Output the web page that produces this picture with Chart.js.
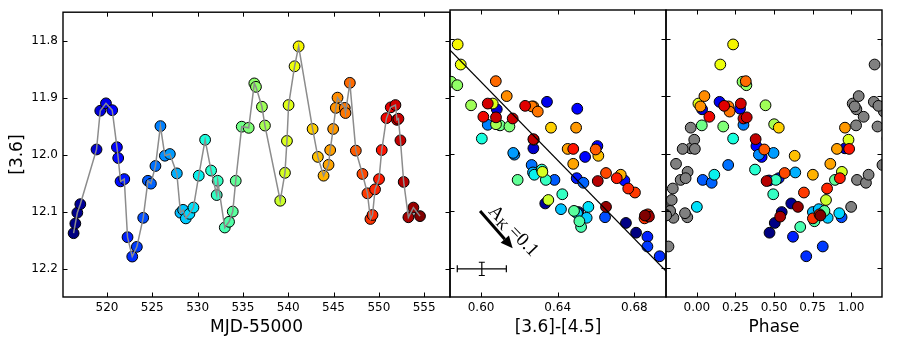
<!DOCTYPE html>
<html>
<head>
<meta charset="utf-8">
<script src="https://cdn.jsdelivr.net/npm/chart.js@4/dist/chart.umd.min.js"></script>
<style>
  body { margin: 0; background: #fff; }
  #wrap { position: relative; width: 900px; height: 338px; }
  #wrap canvas { position: absolute; left: 0; top: 0; }
</style>
</head>
<body>
<div id="wrap">
  <canvas id="lc" width="900" height="338"></canvas>
  <canvas id="cm" width="900" height="338"></canvas>
  <canvas id="ph" width="900" height="338"></canvas>
</div>
<script>
// ---------- DATA ----------
const mjd = [516.32, 516.51, 516.73, 517.06, 518.85, 519.26, 519.89, 520.58, 521.10, 521.24,
  521.50, 521.91, 522.27, 522.79, 523.30, 524.00, 524.52, 524.85, 525.35, 525.90,
  526.39, 526.94, 527.71, 528.11, 528.40, 528.70, 529.10, 529.54, 530.13, 530.83,
  531.49, 532.11, 532.22, 533.00, 533.47, 533.88, 534.21, 534.87, 535.64, 536.26,
  536.44, 537.10, 537.43, 539.12, 539.64, 539.86, 540.04, 540.70, 541.15, 542.69,
  543.27, 543.90, 544.45, 544.63, 544.96, 545.25, 545.44, 546.24, 546.32, 546.80,
  547.46, 548.19, 548.74, 549.07, 549.30, 549.58, 550.02, 550.32, 550.84, 551.31,
  551.83, 552.00, 552.16, 552.38, 552.74, 553.26, 553.81, 554.54];

const mag36 = [12.138, 12.121, 12.102, 12.087, 11.991, 11.923, 11.910, 11.922, 11.987, 12.006,
  12.047, 12.043, 12.145, 12.179, 12.162, 12.111, 12.046, 12.051, 12.020, 11.950,
  12.002, 11.999, 12.033, 12.102, 12.097, 12.112, 12.104, 12.093, 12.037, 11.974,
  12.028, 12.071, 12.046, 12.128, 12.118, 12.100, 12.046, 11.951, 11.953, 11.875,
  11.881, 11.916, 11.949, 12.081, 12.032, 11.976, 11.913, 11.845, 11.810, 11.955,
  12.004, 12.037, 12.018, 11.992, 11.955, 11.918, 11.900, 11.918, 11.927, 11.874,
  11.993, 12.034, 12.068, 12.113, 12.106, 12.061, 12.043, 11.992, 11.936, 11.917,
  11.913, 11.939, 11.937, 11.975, 12.048, 12.110, 12.093, 12.108];

const color36_45 = [0.6809, 0.6756, 0.6508, 0.6335, 0.6273, 0.6082, 0.6344, 0.6502, 0.6607, 0.6543,
  0.6748, 0.6499, 0.6868, 0.6932, 0.6868, 0.6647, 0.6383, 0.6534, 0.6264, 0.6035,
  0.6174, 0.6168, 0.6271, 0.6496, 0.6417, 0.6551, 0.6501, 0.6560, 0.6278, 0.6004,
  0.6317, 0.6424, 0.6338, 0.6522, 0.6513, 0.6485, 0.6191, 0.6099, 0.6148, 0.5844,
  0.5876, 0.5948, 0.6078, 0.6351, 0.6320, 0.6275, 0.6061, 0.5894, 0.5878, 0.6365,
  0.6612, 0.6729, 0.6481, 0.6452, 0.6496, 0.6273, 0.6134, 0.6265, 0.6296, 0.6077,
  0.6598, 0.6652, 0.6803, 0.6853, 0.6870, 0.6768, 0.6708, 0.6481, 0.6012, 0.6230,
  0.6035, 0.6165, 0.6078, 0.6273, 0.6609, 0.6876, 0.6652, 0.6855];

const phase = [0.471, 0.505, 0.550, 0.612, 0.960, 0.034, 0.147, 0.280, 0.386, 0.420,
  0.468, 0.531, 0.623, 0.709, 0.816, 0.938, 0.038, 0.096, 0.203, 0.302,
  0.402, 0.497, 0.638, 0.752, 0.790, 0.848, 0.923, 0.000, 0.113, 0.235,
  0.377, 0.495, 0.512, 0.670, 0.762, 0.827, 0.895, 0.032, 0.171, 0.296,
  0.321, 0.445, 0.501, 0.837, 0.940, 0.983, 0.010, 0.152, 0.235, 0.531,
  0.634, 0.752, 0.865, 0.908, 0.960, 0.023, 0.049, 0.205, 0.212, 0.317,
  0.437, 0.569, 0.694, 0.752, 0.795, 0.844, 0.927, 0.987, 0.081, 0.177,
  0.285, 0.302, 0.323, 0.381, 0.452, 0.540, 0.655, 0.801];

// straight line in the colour-magnitude panel
const fitColor = [0.580, 0.700];
const fitMag = [11.807, 12.217];

// reddening arrow, its label and the typical error bar (data units)
const arrowStart = [0.5995, 12.100];
const arrowEnd = [0.6165, 12.165];
const arrowLabelAt = [0.6172, 12.134];
const errCenter = [0.6004, 12.201];
const errX = 0.0128;
const errY = 0.0115;

// ticks
const mjdTicks = [520, 525, 530, 535, 540, 545, 550, 555];
const colorTicks = [0.60, 0.64, 0.68];
const phaseTicks = [0.00, 0.25, 0.50, 0.75, 1.00];
const magTicks = [11.8, 11.9, 12.0, 12.1, 12.2];

// ---------- COLOURS (jet map over time) ----------
function jet(t) {
  const seg = pts => {
    for (let i = 1; i < pts.length; i++) {
      if (t <= pts[i][0]) {
        const [x0, y0] = pts[i - 1], [x1, y1] = pts[i];
        return y0 + (y1 - y0) * (t - x0) / (x1 - x0);
      }
    }
    return pts[pts.length - 1][1];
  };
  const r = seg([[0, 0], [0.35, 0], [0.66, 1], [0.89, 1], [1, 0.5]]);
  const g = seg([[0, 0], [0.125, 0], [0.375, 1], [0.64, 1], [0.91, 0], [1, 0]]);
  const b = seg([[0, 0.5], [0.11, 1], [0.34, 1], [0.65, 0], [1, 0]]);
  return `rgb(${Math.round(r * 255)},${Math.round(g * 255)},${Math.round(b * 255)})`;
}
const tMin = Math.min(...mjd), tMax = Math.max(...mjd);
const pointColors = mjd.map(t => jet((t - tMin) / (tMax - tMin)));

// ---------- SHARED STYLE ----------
const W = 900, H = 338;
const TOP = 10, BOTTOM = 297;
const tickFont = { family: "DejaVu Sans", size: 12 };
const titleFont = { family: "DejaVu Sans", size: 17 };
const markerR = 5.4;

// frame + inward ticks on all four sides, like matplotlib
const framePlugin = {
  id: "frame",
  afterDatasetsDraw(chart) {
    const { ctx, chartArea: a, scales: { x, y } } = chart;
    const tl = 4.5;
    ctx.save();
    ctx.strokeStyle = "#000";
    ctx.lineWidth = 1;
    ctx.beginPath();
    x.ticks.forEach(t => {
      const px = Math.round(x.getPixelForValue(t.value)) + 0.5;
      ctx.moveTo(px, a.top); ctx.lineTo(px, a.top + tl);
      ctx.moveTo(px, a.bottom); ctx.lineTo(px, a.bottom - tl);
    });
    y.ticks.forEach(t => {
      const py = Math.round(y.getPixelForValue(t.value)) + 0.5;
      ctx.moveTo(a.left, py); ctx.lineTo(a.left + tl, py);
      ctx.moveTo(a.right, py); ctx.lineTo(a.right - tl, py);
    });
    ctx.stroke();
    ctx.lineWidth = 1.4;
    ctx.strokeRect(a.left, a.top, a.right - a.left, a.bottom - a.top);
    ctx.restore();
  }
};

function panelOptions(left, right, xMin, xMax, xTicks, xFmt, xTitle, showY) {
  return {
    responsive: false,
    animation: false,
    devicePixelRatio: 1,
    layout: { padding: { left: showY ? 0 : left, right: W - right, top: TOP, bottom: 0 } },
    plugins: { legend: { display: false }, tooltip: { enabled: false } },
    scales: {
      x: {
        type: "linear", min: xMin, max: xMax,
        grid: { display: false, drawTicks: false }, border: { display: false },
        afterBuildTicks: s => { s.ticks = xTicks.map(v => ({ value: v })); },
        ticks: { callback: v => xFmt(v), font: tickFont, color: "#000", padding: 4, maxRotation: 0, autoSkip: false },
        title: { display: true, text: xTitle, font: titleFont, color: "#000", padding: 0 },
        afterFit: s => { s.height = H - BOTTOM; }
      },
      y: {
        type: "linear", reverse: true, min: 11.75, max: 12.25,
        grid: { display: false, drawTicks: false }, border: { display: false },
        afterBuildTicks: s => { s.ticks = magTicks.map(v => ({ value: v })); },
        ticks: { display: showY, callback: v => v.toFixed(1), font: tickFont, color: "#000", padding: 5 },
        title: { display: showY, text: "[3.6]", font: titleFont, color: "#000", padding: { top: 7 } },
        afterFit: s => { s.width = showY ? left : 0; }
      }
    }
  };
}

function pts(xs, ys) { return xs.map((v, i) => ({ x: v, y: ys[i] })); }

function markers(data, colors) {
  return {
    data: data, showLine: false, clip: 0,
    pointRadius: markerR, pointBackgroundColor: colors,
    pointBorderColor: "#000", pointBorderWidth: 1
  };
}

// ---------- LIGHT CURVE ----------
new Chart(document.getElementById("lc"), {
  type: "scatter",
  data: {
    datasets: [
      { data: pts(mjd, mag36), showLine: true, borderColor: "#8c8c8c", borderWidth: 1.5, pointRadius: 0, clip: 0 },
      markers(pts(mjd, mag36), pointColors)
    ]
  },
  options: panelOptions(63, 450, 515.15, 557.85, mjdTicks, v => v.toFixed(0), "MJD-55000", true),
  plugins: [framePlugin]
});

// ---------- COLOUR-MAGNITUDE ----------
const cmExtras = {
  id: "cmExtras",
  afterDatasetsDraw(chart) {
    const { ctx, scales: { x, y } } = chart;
    const px = v => x.getPixelForValue(v), py = v => y.getPixelForValue(v);
    ctx.save();

    // arrow
    const x0 = px(arrowStart[0]), y0 = py(arrowStart[1]);
    const x1 = px(arrowEnd[0]), y1 = py(arrowEnd[1]);
    const ang = Math.atan2(y1 - y0, x1 - x0);
    const headL = 12, headW = 5.5;
    const bx = x1 - headL * Math.cos(ang), by = y1 - headL * Math.sin(ang);
    ctx.strokeStyle = "#000";
    ctx.fillStyle = "#000";
    ctx.lineWidth = 3;
    ctx.beginPath(); ctx.moveTo(x0, y0); ctx.lineTo(bx, by); ctx.stroke();
    ctx.beginPath();
    ctx.moveTo(x1, y1);
    ctx.lineTo(bx + headW * Math.sin(ang), by - headW * Math.cos(ang));
    ctx.lineTo(bx - headW * Math.sin(ang), by + headW * Math.cos(ang));
    ctx.closePath(); ctx.fill();

    // arrow label, rotated along the arrow
    ctx.translate(px(arrowLabelAt[0]), py(arrowLabelAt[1]));
    ctx.rotate(ang - 0.05);
    const big = "19px 'Liberation Serif'", small = "14px 'Liberation Serif'";
    ctx.font = big; const wA = ctx.measureText("A").width, wEq = ctx.measureText(" =0.1").width;
    ctx.font = small; const wK = ctx.measureText("K").width;
    let cx = -(wA + wK + wEq) / 2;
    ctx.textBaseline = "alphabetic";
    ctx.textAlign = "left";
    ctx.font = big; ctx.fillText("A", cx, 6); cx += wA;
    ctx.font = small; ctx.fillText("K", cx, 9); cx += wK;
    ctx.font = big; ctx.fillText(" =0.1", cx, 6);
    ctx.setTransform(1, 0, 0, 1, 0, 0);

    // typical error bar
    const ex = px(errCenter[0]), ey = py(errCenter[1]);
    const exl = px(errCenter[0] - errX), exr = px(errCenter[0] + errX);
    const eyt = py(errCenter[1] - errY), eyb = py(errCenter[1] + errY);
    ctx.lineWidth = 1.2;
    ctx.beginPath();
    ctx.moveTo(exl, ey); ctx.lineTo(exr, ey);
    ctx.moveTo(ex, eyt); ctx.lineTo(ex, eyb);
    ctx.moveTo(exl, ey - 3.5); ctx.lineTo(exl, ey + 3.5);
    ctx.moveTo(exr, ey - 3.5); ctx.lineTo(exr, ey + 3.5);
    ctx.moveTo(ex - 3, eyt); ctx.lineTo(ex + 3, eyt);
    ctx.moveTo(ex - 3, eyb); ctx.lineTo(ex + 3, eyb);
    ctx.stroke();
    ctx.restore();
  }
};

new Chart(document.getElementById("cm"), {
  type: "scatter",
  data: {
    datasets: [
      { data: pts(fitColor, fitMag), showLine: true, borderColor: "#000", borderWidth: 1.3, pointRadius: 0, clip: 0 },
      markers(pts(color36_45, mag36), pointColors)
    ]
  },
  options: panelOptions(450, 666, 0.5838, 0.6965, colorTicks, v => v.toFixed(2), "[3.6]-[4.5]", false),
  plugins: [cmExtras, framePlugin]
});

// ---------- PHASED ----------
new Chart(document.getElementById("ph"), {
  type: "scatter",
  data: {
    datasets: [
      markers(pts(phase, mag36), pointColors),
      markers(pts(phase.map(p => p - 1), mag36), "#808080"),
      markers(pts(phase.map(p => p + 1), mag36), "#808080")
    ]
  },
  options: panelOptions(666, 882, -0.2, 1.2, phaseTicks, v => v.toFixed(2), "Phase", false),
  plugins: [framePlugin]
});
</script>
</body>
</html>
